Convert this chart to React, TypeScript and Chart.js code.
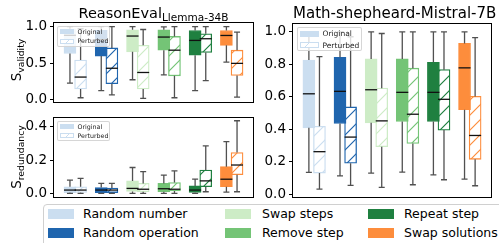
import React, { useEffect, useRef } from "react";
import { Chart, registerables } from "chart.js";

Chart.register(...registerables);

// ---------------- data ----------------
const categories = [
  "Random number",
  "Random operation",
  "Swap steps",
  "Remove step",
  "Repeat step",
  "Swap solutions",
];
const seriesLabels = ["Original", "Perturbed"];
const boxColors = ["#cbdef0", "#1f65ae", "#cdecc6", "#74c476", "#1f8040", "#fd8d3c"];

// each row: [lower whisker, Q1, median, Q3, upper whisker]
const validityOriginal = [
  [0.225, 0.63, 0.88, 0.97, 1.0],
  [0.12, 0.595, 0.82, 0.95, 1.0],
  [0.27, 0.653, 0.87, 0.955, 1.0],
  [0.338, 0.676, 0.856, 0.955, 0.995],
  [0.12, 0.608, 0.81, 0.946, 1.0],
  [0.513, 0.743, 0.878, 0.946, 1.0],
];
const validityPerturbed = [
  [0.023, 0.145, 0.307, 0.54, 0.97],
  [0.063, 0.216, 0.428, 0.707, 1.0],
  [0.014, 0.144, 0.37, 0.743, 0.96],
  [0.023, 0.324, 0.676, 0.865, 1.0],
  [0.257, 0.644, 0.833, 0.9, 1.0],
  [0.031, 0.329, 0.495, 0.676, 0.923],
];
const redundancyOriginal = [
  [0.0, 0.005, 0.02, 0.04, 0.08],
  [0.0, 0.004, 0.02, 0.035, 0.06],
  [0.0, 0.012, 0.03, 0.075, 0.155],
  [0.0, 0.01, 0.028, 0.06, 0.11],
  [0.0, 0.006, 0.02, 0.045, 0.085],
  [0.008, 0.04, 0.085, 0.16, 0.31],
];
const redundancyPerturbed = [
  [0.0, 0.006, 0.02, 0.04, 0.09],
  [0.0, 0.005, 0.02, 0.032, 0.06],
  [0.0, 0.01, 0.025, 0.06, 0.13],
  [0.0, 0.015, 0.025, 0.065, 0.135],
  [0.01, 0.04, 0.075, 0.14, 0.285],
  [0.01, 0.112, 0.17, 0.245, 0.435],
];
const shepherdOriginal = [
  [0.133, 0.408, 0.618, 0.826, 1.0],
  [0.112, 0.435, 0.633, 0.843, 1.0],
  [0.129, 0.439, 0.643, 0.833, 1.0],
  [0.135, 0.447, 0.627, 0.833, 1.0],
  [0.118, 0.447, 0.627, 0.812, 1.0],
  [0.092, 0.52, 0.778, 0.929, 1.0],
];
const shepherdPerturbed = [
  [0.03, 0.129, 0.261, 0.418, 0.847],
  [0.053, 0.19, 0.351, 0.537, 0.97],
  [0.041, 0.292, 0.451, 0.653, 0.99],
  [0.057, 0.312, 0.492, 0.776, 1.0],
  [0.088, 0.394, 0.584, 0.767, 1.0],
  [0.051, 0.214, 0.361, 0.602, 0.965],
];

// ---------------- styling ----------------
const FONT = "'DejaVu Sans', sans-serif";
const W = 499;
const H = 243;
const PAIR_OFFSET = 0.17;
const AXIS_W = 45;
const WHISKER = "#505050";
const MEDIAN = "#111111";

type Frame = { left: number; right: number; top: number; bottom: number };
type Panel = {
  frame: Frame;
  yMin: number;
  yMax: number;
  step: number;
  original: number[][];
  perturbed: number[][];
};

const panels: Panel[] = [
  { frame: { left: 54, right: 253, top: 23, bottom: 102 }, yMin: -0.035, yMax: 1.049, step: 0.5, original: validityOriginal, perturbed: validityPerturbed },
  { frame: { left: 54, right: 253, top: 118, bottom: 197 }, yMin: -0.0215, yMax: 0.4515, step: 0.2, original: redundancyOriginal, perturbed: redundancyPerturbed },
  { frame: { left: 293, right: 491, top: 24, bottom: 197 }, yMin: -0.0185, yMax: 1.0485, step: 0.2, original: shepherdOriginal, perturbed: shepherdPerturbed },
];

function makeHatch(ctx: CanvasRenderingContext2D, color: string) {
  const s = 15;
  const c = document.createElement("canvas");
  c.width = s;
  c.height = s;
  const g = c.getContext("2d")!;
  g.fillStyle = "#ffffff";
  g.fillRect(0, 0, s, s);
  g.strokeStyle = color;
  g.lineWidth = 1.2;
  g.beginPath();
  g.moveTo(0, s);
  g.lineTo(s, 0);
  g.moveTo(-2, 2);
  g.lineTo(2, -2);
  g.moveTo(s - 2, s + 2);
  g.lineTo(s + 2, s - 2);
  g.stroke();
  return ctx.createPattern(c, "repeat")!;
}

function boxPlugin(series: number[][][]) {
  return {
    id: "boxWhiskers",
    afterDatasetsDraw(chart: any) {
      const { ctx } = chart;
      const y = chart.scales.y;
      series.forEach((rows, d) => {
        const meta = chart.getDatasetMeta(d);
        rows.forEach((r, i) => {
          const el: any = meta.data[i];
          if (!el) return;
          const x = el.x;
          const w = el.width;
          const [lo, q1, med, q3, hi] = r.map((v) => y.getPixelForValue(v));
          ctx.save();
          ctx.lineWidth = 1.3;
          ctx.strokeStyle = WHISKER;
          ctx.beginPath();
          ctx.moveTo(x, q1);
          ctx.lineTo(x, lo);
          ctx.moveTo(x, q3);
          ctx.lineTo(x, hi);
          ctx.moveTo(x - w / 4, lo);
          ctx.lineTo(x + w / 4, lo);
          ctx.moveTo(x - w / 4, hi);
          ctx.lineTo(x + w / 4, hi);
          ctx.stroke();
          ctx.strokeStyle = MEDIAN;
          ctx.beginPath();
          ctx.moveTo(x - w / 2, med);
          ctx.lineTo(x + w / 2, med);
          ctx.stroke();
          ctx.restore();
        });
      });
    },
  };
}

const framePlugin = {
  id: "frame",
  afterDraw(chart: any) {
    const { ctx, chartArea: a } = chart;
    ctx.save();
    ctx.strokeStyle = "#000";
    ctx.lineWidth = 1;
    ctx.strokeRect(a.left - 0.5, a.top - 0.5, a.right - a.left + 1, a.bottom - a.top + 1);
    ctx.restore();
  },
};

function buildChart(canvas: HTMLCanvasElement, p: Panel) {
  const ctx = canvas.getContext("2d")!;
  const hatches = boxColors.map((c) => makeHatch(ctx, c));
  const toBars = (rows: number[][], off: number) =>
    rows.map((r, i) => ({ x: i + off, y: [r[1], r[3]] }));
  return new Chart(canvas, {
    type: "bar",
    data: {
      labels: categories,
      datasets: [
        {
          label: seriesLabels[0],
          data: toBars(p.original, -PAIR_OFFSET) as any,
          backgroundColor: boxColors,
          borderColor: boxColors,
          borderWidth: 1,
          borderSkipped: false,
          barThickness: 12,
          grouped: false,
        } as any,
        {
          label: seriesLabels[1],
          data: toBars(p.perturbed, PAIR_OFFSET) as any,
          backgroundColor: hatches,
          borderColor: boxColors,
          borderWidth: 1.3,
          borderSkipped: false,
          barThickness: 12,
          grouped: false,
        } as any,
      ],
    },
    options: {
      responsive: false,
      animation: false,
      events: [],
      layout: {
        padding: {
          left: p.frame.left - AXIS_W,
          right: W - p.frame.right,
          top: p.frame.top,
          bottom: H - p.frame.bottom,
        },
      },
      plugins: { legend: { display: false }, tooltip: { enabled: false } },
      scales: {
        x: { type: "linear", min: -0.68, max: 5.68, offset: false, display: false },
        y: {
          type: "linear",
          min: p.yMin,
          max: p.yMax,
          afterFit: (s: any) => {
            s.width = AXIS_W;
          },
          ticks: {
            stepSize: p.step,
            includeBounds: false,
            callback: (v: any) => Number(v).toFixed(1),
            font: { family: FONT, size: 13.5 },
            color: "#000",
            padding: 3,
          },
          grid: { display: true, drawOnChartArea: false, drawTicks: true, tickLength: 4, color: "#000", lineWidth: 1 },
          border: { display: false },
        },
      },
    } as any,
    plugins: [boxPlugin([p.original, p.perturbed]), framePlugin],
  });
}

// ---------------- html pieces ----------------
const hatchCss = (c: string) =>
  `repeating-linear-gradient(135deg, #fff 0px, #fff 5px, ${c} 5px, ${c} 6.2px, #fff 6.2px, #fff 10px)`;

function InnerLegend(props: { left: number; top: number; width: number; height: number; font: number; patchW: number; patchH: number; rows: number[]; textX: number }) {
  const { left, top, width, height, font, patchW, patchH, rows, textX } = props;
  return (
    <div style={{ position: "absolute", left, top, width, height, background: "rgba(255,255,255,0.8)", border: "1px solid rgba(204,204,204,0.8)", borderRadius: 2, boxSizing: "border-box" }}>
      {seriesLabels.map((lab, k) => (
        <React.Fragment key={lab}>
          <div
            style={{
              position: "absolute",
              left: 2,
              top: rows[k] - top - patchH / 2 - 1,
              width: patchW,
              height: patchH,
              boxSizing: "border-box",
              background: k === 0 ? boxColors[0] : hatchCss(boxColors[0]),
              border: k === 0 ? "none" : `1px solid ${boxColors[0]}`,
            }}
          />
          <div style={{ position: "absolute", left: textX - left - 1, top: rows[k] - top - font * 0.6 - 1, fontSize: font, lineHeight: `${font * 1.2}px`, color: "#222", whiteSpace: "nowrap" }}>{lab}</div>
        </React.Fragment>
      ))}
    </div>
  );
}

export default function App() {
  const r0 = useRef<HTMLCanvasElement>(null);
  const r1 = useRef<HTMLCanvasElement>(null);
  const r2 = useRef<HTMLCanvasElement>(null);

  useEffect(() => {
    const refs = [r0, r1, r2];
    const charts = panels.map((p, i) => buildChart(refs[i].current!, p));
    return () => charts.forEach((c) => c.destroy());
  }, []);

  const legendPatchX = [48, 225, 368];
  const legendTextX = [83, 262, 404];
  const legendRowY = [214, 232.5];

  return (
    <div style={{ position: "fixed", left: 0, top: 0, width: W, height: H, overflow: "hidden", background: "#fff", fontFamily: FONT, color: "#000" }}>
      <canvas ref={r0} width={W} height={H} style={{ position: "absolute", left: 0, top: 0 }} />
      <canvas ref={r1} width={W} height={H} style={{ position: "absolute", left: 0, top: 0 }} />
      <canvas ref={r2} width={W} height={H} style={{ position: "absolute", left: 0, top: 0 }} />

      {/* titles */}
      <div style={{ position: "absolute", left: 54, width: 199, top: 5.5, textAlign: "center", fontSize: 14.5, lineHeight: "15px", whiteSpace: "nowrap" }}>
        ReasonEval<span style={{ fontSize: 10.5, position: "relative", top: 3.5 }}>Llemma-34B</span>
      </div>
      <div style={{ position: "absolute", left: 293, width: 198, top: 5.5, textAlign: "center", fontSize: 15, lineHeight: "15px", whiteSpace: "nowrap" }}>
        Math-shepheard-Mistral-7B
      </div>

      {/* y labels */}
      <div style={{ position: "absolute", left: 17, top: 60, transform: "translate(-50%,-50%) rotate(-90deg)", fontSize: 13.5, whiteSpace: "nowrap", lineHeight: "13px" }}>
        S<span style={{ fontSize: 9.3, position: "relative", top: 3 }}>validity</span>
      </div>
      <div style={{ position: "absolute", left: 17, top: 157, transform: "translate(-50%,-50%) rotate(-90deg)", fontSize: 13.5, whiteSpace: "nowrap", lineHeight: "13px" }}>
        S<span style={{ fontSize: 9.3, position: "relative", top: 3 }}>redundancy</span>
      </div>

      {/* inner legends */}
      <InnerLegend left={57} top={26} width={53} height={21} font={6.3} patchW={14} patchH={5} rows={[31.5, 41]} textX={77.5} />
      <InnerLegend left={57} top={121} width={53} height={20} font={6.3} patchW={14} patchH={5} rows={[126.5, 135.5]} textX={77.5} />
      <InnerLegend left={297} top={26.5} width={65} height={24.5} font={7.5} patchW={19} patchH={6} rows={[33.5, 45]} textX={322.5} />

      {/* bottom legend */}
      <div style={{ position: "absolute", left: 43, top: 204, width: 470, height: 60, border: "1px solid #d0d0d0", borderRadius: 4, boxSizing: "border-box", background: "#fff" }} />
      {categories.map((c, i) => {
        const col = Math.floor(i / 2);
        const row = i % 2;
        const cy = legendRowY[row];
        return (
          <React.Fragment key={c}>
            <div style={{ position: "absolute", left: legendPatchX[col], top: cy - 5, width: 26, height: 10, background: boxColors[i] }} />
            <div style={{ position: "absolute", left: legendTextX[col], top: cy - 8, fontSize: 12.5, lineHeight: "16px", whiteSpace: "nowrap" }}>{c}</div>
          </React.Fragment>
        );
      })}
    </div>
  );
}
